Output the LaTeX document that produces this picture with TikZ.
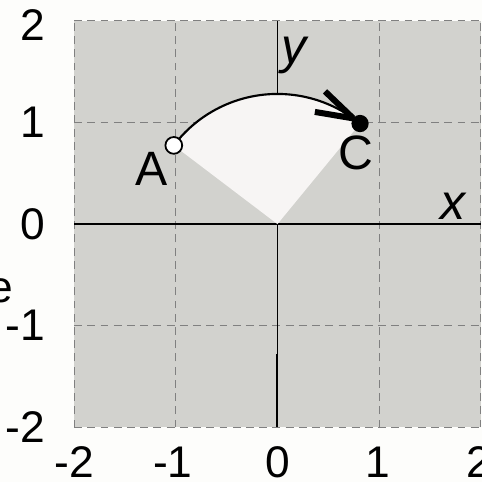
\documentclass[tikz,border=0pt]{standalone}
\usepackage{fontspec}
\setmainfont{Liberation Sans}
\begin{document}
\begin{tikzpicture}[x=1cm,y=1cm,
  gridline/.style={draw=black!50, line width=0.3pt, dash pattern=on 2.2pt off 1.5pt},
  axisline/.style={draw=black, line width=0.5pt},
  ticklbl/.style={inner sep=0pt, font=\fontsize{12.4}{15}\selectfont},
  axlbl/.style={inner sep=0pt, font=\fontsize{14}{16}\selectfont\itshape},
  ptlbl/.style={inner sep=0pt, font=\fontsize{13.5}{16}\selectfont},
  barb/.style={draw=black, line width=1.7pt}]
\useasboundingbox (-2.729,-2.537) rectangle (2.010,2.204);
\fill[fill={rgb,255:red,253;green,253;blue,251}] (-2.729,-2.537) rectangle (2.010,2.204);
\fill[fill={rgb,255:red,210;green,210;blue,206}] (-2,-2) rectangle (2,2);
% grid
\foreach \k in {-2,-1,1,2} {
  \draw[gridline] (\k,-2) -- (\k,2);
  \draw[gridline] (-2,\k) -- (2,\k);
}
\draw[gridline] (-2,0) -- (2,0);
% axes
\coordinate (O) at (0,0);
\coordinate (xl) at (-2,0);
\coordinate (xr) at (2,0);
\coordinate (yt) at (0,2);
\coordinate (yb) at (0,-2);
\coordinate (ym) at (0,-1.28);
\draw[axisline] (xl) -- (xr);
\draw[axisline] (yb) -- (yt);
\draw[axisline, line width=0.56pt] (ym) -- (yb);
% sector
\coordinate (A) at (142.8:1.28);
\coordinate (C) at (50.6:1.28);
\fill[fill={rgb,255:red,247;green,245;blue,244}] (O) -- (A) arc[start angle=142.8, end angle=50.6, radius=1.28] -- cycle;
\draw[black, line width=0.6pt] (A) arc[start angle=142.8, end angle=50.6, radius=1.28];
% arrow barbs
\coordinate (tip) at (0.745,1.040);
\coordinate (b1) at (0.468,1.305);
\coordinate (b2) at (0.368,1.103);
\draw[barb] (b1) -- (tip);
\draw[barb] (b2) -- (tip);
% points
\node[circle, draw=black, line width=0.5pt, fill=white, minimum size=0.165cm, inner sep=0pt] (pA) at (A) {};
\node[circle, fill=black, minimum size=0.17cm, inner sep=0pt] (pC) at (C) {};
% labels
\node[ptlbl] (lA) at (-1.241,0.542) {A};
\node[ptlbl] (lC) at (0.768,0.700) {C};
\node[axlbl] (lx) at (1.724,0.177) {x};
\node[axlbl] (ly) at (0.158,1.655) {y};
\node[ticklbl, anchor=east] (ty2) at (-2.28,1.96) {2};
\node[ticklbl, anchor=east] (ty1) at (-2.28,1) {1};
\node[ticklbl, anchor=east] (ty0) at (-2.28,0) {0};
\node[ticklbl, anchor=east] (tym1) at (-2.28,-1) {-1};
\node[ticklbl, anchor=east] (tym2) at (-2.28,-2) {-2};
\node[ticklbl] (tx-2) at (-2,-2.345) {-2};
\node[ticklbl] (tx-1) at (-1.03,-2.345) {-1};
\node[ticklbl] (tx0) at (0,-2.345) {0};
\node[ticklbl] (tx1) at (0.99,-2.345) {1};
\node[ticklbl] (tx2) at (1.98,-2.345) {2};
\node[ticklbl, anchor=base east] (le) at (-2.597,-0.77) {e};
\end{tikzpicture}
\end{document}
